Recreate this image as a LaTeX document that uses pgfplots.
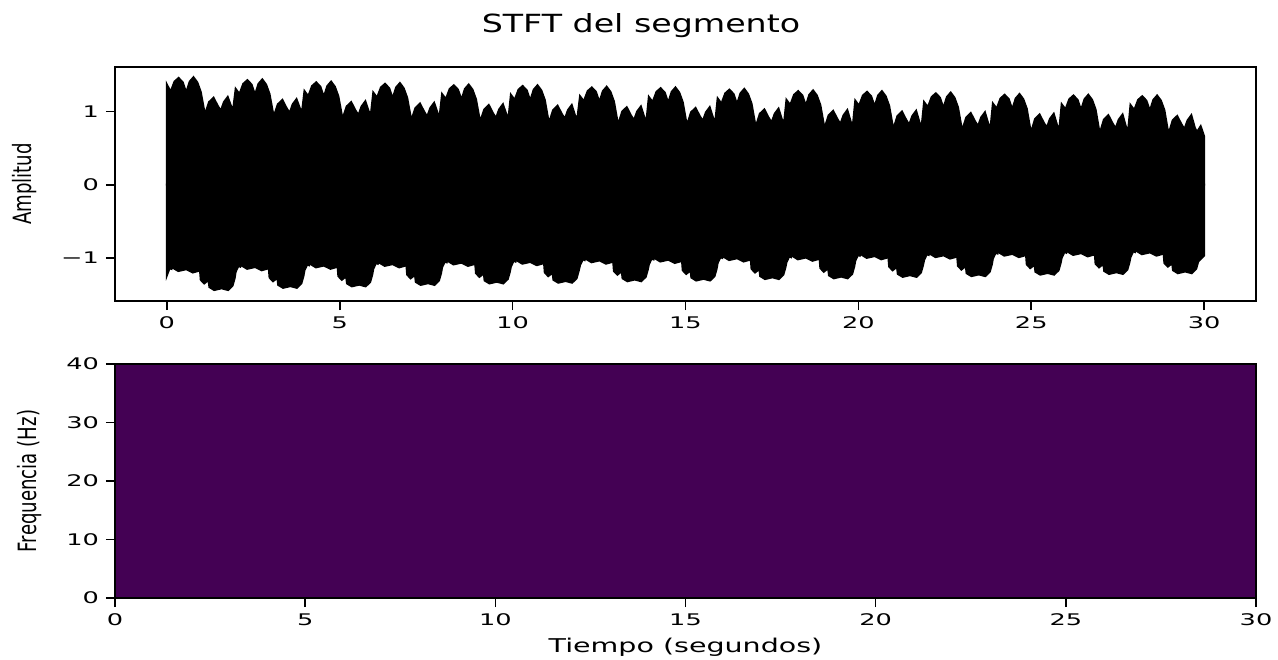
\documentclass[border=0pt]{standalone}
\usepackage{fontspec}
\usepackage{pgfplots}
\pgfplotsset{compat=1.18}
\setmainfont{DejaVu Sans}
\newfontfamily\tickfont{DejaVu Sans}[FakeStretch=1.6]
\newfontfamily\labfont{DejaVu Sans}[FakeStretch=1.5]
\newfontfamily\titfont{DejaVu Sans}[FakeStretch=1.33]
\newfontfamily\yfont{DejaVu Sans}[FakeStretch=0.72]
\definecolor{vir}{RGB}{68,1,84}

\pgfplotsset{
  stftax/.style={
    scale only axis, width=570.5pt, height=117pt,
    axis on top, tick align=outside, xtick pos=left, ytick pos=left,
    major tick length=4.5pt,
    axis line style={line width=0.8pt, black},
    tick style={line width=0.8pt, black},
    tick label style={font=\tickfont\fontsize{8}{9.6}\selectfont},
    ylabel style={font=\yfont\fontsize{12.6}{15}\selectfont, anchor=center},
    xtick={0,5,10,15,20,25,30},
    xticklabels={0,5,10,15,20,25,30},
  }
}

\begin{document}
\begin{tikzpicture}
\path[use as bounding box] (-57.5pt,-30.5pt) rectangle (581.5pt,299pt);

% senal en el tiempo: envolvente superior e inferior, rellenas hasta y=0
\begin{axis}[stftax, at={(0,148.5pt)}, anchor=south west,
  xmin=-1.5, xmax=31.5, ymin=-1.59, ymax=1.61,
  ytick={-1,0,1}, yticklabels={−1,0,1},
  ylabel={Amplitud},
  ylabel style={at={(axis description cs:-0.0793,0.5)}},
  title={STFT del segmento},
  title style={font=\titfont\fontsize{12.5}{15}\selectfont, at={(axis description cs:0.461,1)}, anchor=base, yshift=11.5pt},
]
\addplot[black, fill=black, line width=1pt] coordinates {
(0,1.37) (0.11,1.27) (0.22,1.41) (0.34,1.46) (0.46,1.40) (0.56,1.26) (0.66,1.41) (0.77,1.47) (0.88,1.40) (0.98,1.27) (1.10,0.96) (1.22,1.13) (1.35,1.19) (1.47,1.08) (1.56,1.01) (1.65,1.13) (1.76,1.20) (1.86,1.07) (1.92,1.04)
(1.99,1.31) (2.10,1.24) (2.21,1.38) (2.33,1.43) (2.45,1.37) (2.55,1.23) (2.65,1.38) (2.76,1.44) (2.87,1.37) (2.97,1.24) (3.09,0.93) (3.21,1.10) (3.34,1.16) (3.46,1.05) (3.55,0.98) (3.64,1.10) (3.75,1.17) (3.85,1.04) (3.91,1.00)
(3.98,1.28) (4.09,1.21) (4.20,1.35) (4.32,1.40) (4.44,1.34) (4.54,1.20) (4.64,1.35) (4.75,1.41) (4.86,1.34) (4.96,1.21) (5.08,0.90) (5.20,1.07) (5.33,1.13) (5.45,1.02) (5.54,0.95) (5.63,1.07) (5.74,1.14) (5.84,1.00) (5.90,0.96)
(5.97,1.26) (6.08,1.19) (6.19,1.33) (6.31,1.38) (6.43,1.32) (6.53,1.18) (6.63,1.33) (6.74,1.39) (6.85,1.32) (6.95,1.19) (7.07,0.88) (7.19,1.05) (7.32,1.11) (7.44,1.00) (7.53,0.93) (7.62,1.05) (7.73,1.12) (7.83,0.98) (7.89,0.94)
(7.96,1.24) (8.07,1.17) (8.18,1.31) (8.30,1.36) (8.42,1.30) (8.52,1.16) (8.62,1.31) (8.73,1.37) (8.84,1.30) (8.94,1.17) (9.06,0.86) (9.18,1.03) (9.31,1.09) (9.43,0.98) (9.52,0.91) (9.61,1.03) (9.72,1.10) (9.82,0.96) (9.88,0.91)
(9.95,1.23) (10.06,1.16) (10.17,1.30) (10.29,1.35) (10.41,1.29) (10.51,1.15) (10.61,1.30) (10.72,1.36) (10.83,1.29) (10.93,1.16) (11.05,0.84) (11.17,1.02) (11.30,1.08) (11.42,0.97) (11.51,0.90) (11.60,1.02) (11.71,1.09) (11.81,0.94) (11.87,0.90)
(11.95,1.21) (12.06,1.14) (12.17,1.28) (12.29,1.33) (12.41,1.27) (12.51,1.13) (12.61,1.28) (12.72,1.34) (12.83,1.27) (12.93,1.14) (13.05,0.82) (13.17,1.00) (13.30,1.06) (13.42,0.95) (13.51,0.88) (13.60,1.00) (13.71,1.07) (13.81,0.92) (13.87,0.87)
(13.94,1.20) (14.05,1.13) (14.16,1.27) (14.28,1.32) (14.40,1.26) (14.50,1.12) (14.60,1.27) (14.71,1.33) (14.82,1.26) (14.92,1.13) (15.04,0.81) (15.16,0.99) (15.29,1.05) (15.41,0.94) (15.50,0.87) (15.59,0.99) (15.70,1.06) (15.80,0.91) (15.86,0.86)
(15.93,1.18) (16.04,1.11) (16.15,1.25) (16.27,1.30) (16.39,1.24) (16.49,1.10) (16.59,1.25) (16.70,1.31) (16.81,1.24) (16.91,1.11) (17.03,0.79) (17.15,0.97) (17.28,1.03) (17.40,0.92) (17.49,0.85) (17.58,0.97) (17.69,1.04) (17.79,0.89) (17.85,0.84)
(17.92,1.16) (18.03,1.09) (18.14,1.23) (18.26,1.28) (18.38,1.22) (18.48,1.08) (18.58,1.23) (18.69,1.29) (18.80,1.22) (18.90,1.09) (19.02,0.77) (19.14,0.95) (19.27,1.01) (19.39,0.90) (19.48,0.83) (19.57,0.95) (19.68,1.02) (19.78,0.86) (19.84,0.81)
(19.91,1.15) (20.02,1.08) (20.13,1.22) (20.25,1.27) (20.37,1.21) (20.47,1.07) (20.57,1.22) (20.68,1.28) (20.79,1.21) (20.89,1.08) (21.01,0.76) (21.13,0.94) (21.26,1.00) (21.38,0.89) (21.47,0.82) (21.56,0.94) (21.67,1.01) (21.77,0.85) (21.83,0.80)
(21.90,1.13) (22.01,1.06) (22.12,1.20) (22.24,1.25) (22.36,1.19) (22.46,1.05) (22.56,1.20) (22.67,1.26) (22.78,1.19) (22.88,1.06) (23.00,0.74) (23.12,0.92) (23.25,0.98) (23.37,0.87) (23.46,0.80) (23.55,0.92) (23.66,0.99) (23.76,0.83) (23.82,0.77)
(23.89,1.11) (24.00,1.04) (24.11,1.18) (24.23,1.23) (24.35,1.17) (24.45,1.03) (24.55,1.18) (24.66,1.24) (24.77,1.17) (24.87,1.04) (24.99,0.71) (25.11,0.90) (25.24,0.96) (25.36,0.85) (25.45,0.78) (25.54,0.90) (25.65,0.97) (25.75,0.81) (25.81,0.75)
(25.88,1.10) (25.99,1.03) (26.10,1.17) (26.22,1.22) (26.34,1.16) (26.44,1.02) (26.54,1.17) (26.65,1.23) (26.76,1.16) (26.86,1.03) (26.98,0.70) (27.10,0.89) (27.23,0.95) (27.35,0.84) (27.44,0.77) (27.53,0.89) (27.64,0.96) (27.74,0.79) (27.80,0.73)
(27.87,1.09) (27.98,1.02) (28.09,1.16) (28.21,1.21) (28.33,1.15) (28.43,1.01) (28.53,1.16) (28.64,1.22) (28.75,1.15) (28.85,1.02) (28.97,0.69) (29.09,0.88) (29.22,0.94) (29.34,0.83) (29.43,0.76) (29.52,0.88) (29.63,0.95) (29.73,0.78) (29.79,0.72) (29.90,0.80) (30.00,0.66)
} \closedcycle;
\addplot[black, fill=black, line width=1pt] coordinates {
(0,-1.24) (0.08,-1.14) (0.13,-1.15) (0.16,-0.97) (0.19,-1.14) (0.33,-1.18) (0.52,-1.16) (0.55,-0.95) (0.58,-1.16) (0.75,-1.20) (0.90,-1.18) (0.94,-1.06) (0.98,-1.30) (1.08,-1.35) (1.16,-1.32) (1.19,-1.24) (1.23,-1.40) (1.37,-1.44) (1.55,-1.42) (1.58,-1.24) (1.61,-1.42) (1.77,-1.44) (1.90,-1.38) (1.96,-1.28)
(1.99,-1.19) (2.07,-1.11) (2.12,-1.12) (2.15,-0.94) (2.18,-1.11) (2.32,-1.15) (2.51,-1.13) (2.54,-0.92) (2.57,-1.13) (2.74,-1.17) (2.89,-1.15) (2.93,-1.03) (2.97,-1.27) (3.07,-1.32) (3.15,-1.29) (3.18,-1.21) (3.22,-1.37) (3.36,-1.41) (3.54,-1.39) (3.57,-1.21) (3.60,-1.39) (3.76,-1.41) (3.89,-1.35) (3.95,-1.25)
(3.98,-1.17) (4.06,-1.09) (4.11,-1.10) (4.14,-0.92) (4.17,-1.09) (4.31,-1.13) (4.50,-1.11) (4.53,-0.90) (4.56,-1.11) (4.73,-1.15) (4.88,-1.13) (4.92,-1.01) (4.96,-1.25) (5.06,-1.30) (5.14,-1.27) (5.17,-1.19) (5.21,-1.35) (5.35,-1.39) (5.53,-1.37) (5.56,-1.19) (5.59,-1.37) (5.75,-1.39) (5.88,-1.33) (5.94,-1.23)
(5.97,-1.15) (6.05,-1.07) (6.10,-1.08) (6.13,-0.90) (6.16,-1.07) (6.30,-1.11) (6.49,-1.09) (6.52,-0.88) (6.55,-1.09) (6.72,-1.13) (6.87,-1.11) (6.91,-0.99) (6.95,-1.23) (7.05,-1.28) (7.13,-1.25) (7.16,-1.17) (7.20,-1.33) (7.34,-1.37) (7.52,-1.35) (7.55,-1.17) (7.58,-1.35) (7.74,-1.37) (7.87,-1.31) (7.93,-1.21)
(7.96,-1.13) (8.04,-1.05) (8.09,-1.06) (8.12,-0.88) (8.15,-1.05) (8.29,-1.09) (8.48,-1.07) (8.51,-0.86) (8.54,-1.07) (8.71,-1.11) (8.86,-1.09) (8.90,-0.97) (8.94,-1.21) (9.04,-1.26) (9.12,-1.23) (9.15,-1.15) (9.19,-1.31) (9.33,-1.35) (9.51,-1.33) (9.54,-1.15) (9.57,-1.33) (9.73,-1.35) (9.86,-1.29) (9.92,-1.19)
(9.95,-1.12) (10.03,-1.04) (10.08,-1.05) (10.11,-0.87) (10.14,-1.04) (10.28,-1.08) (10.47,-1.06) (10.50,-0.85) (10.53,-1.06) (10.70,-1.10) (10.85,-1.08) (10.89,-0.96) (10.93,-1.20) (11.03,-1.25) (11.11,-1.22) (11.14,-1.14) (11.18,-1.30) (11.32,-1.34) (11.50,-1.32) (11.53,-1.14) (11.56,-1.32) (11.72,-1.34) (11.85,-1.28) (11.91,-1.18)
(11.95,-1.10) (12.03,-1.02) (12.08,-1.03) (12.11,-0.85) (12.14,-1.02) (12.28,-1.06) (12.47,-1.04) (12.50,-0.83) (12.53,-1.04) (12.70,-1.08) (12.85,-1.06) (12.89,-0.94) (12.93,-1.18) (13.03,-1.23) (13.11,-1.20) (13.14,-1.12) (13.18,-1.28) (13.32,-1.32) (13.50,-1.30) (13.53,-1.12) (13.56,-1.30) (13.72,-1.32) (13.85,-1.26) (13.91,-1.16)
(13.94,-1.09) (14.02,-1.01) (14.07,-1.02) (14.10,-0.84) (14.13,-1.01) (14.27,-1.05) (14.46,-1.03) (14.49,-0.82) (14.52,-1.03) (14.69,-1.07) (14.84,-1.05) (14.88,-0.93) (14.92,-1.17) (15.02,-1.22) (15.10,-1.19) (15.13,-1.11) (15.17,-1.27) (15.31,-1.31) (15.49,-1.29) (15.52,-1.11) (15.55,-1.29) (15.71,-1.31) (15.84,-1.25) (15.90,-1.15)
(15.93,-1.07) (16.01,-0.99) (16.06,-1.00) (16.09,-0.82) (16.12,-0.99) (16.26,-1.03) (16.45,-1.01) (16.48,-0.80) (16.51,-1.01) (16.68,-1.05) (16.83,-1.03) (16.87,-0.91) (16.91,-1.15) (17.01,-1.20) (17.09,-1.17) (17.12,-1.09) (17.16,-1.25) (17.30,-1.29) (17.48,-1.27) (17.51,-1.09) (17.54,-1.27) (17.70,-1.29) (17.83,-1.23) (17.89,-1.13)
(17.92,-1.06) (18.00,-0.98) (18.05,-0.99) (18.08,-0.81) (18.11,-0.98) (18.25,-1.02) (18.44,-1.00) (18.47,-0.79) (18.50,-1.00) (18.67,-1.04) (18.82,-1.02) (18.86,-0.90) (18.90,-1.14) (19.00,-1.19) (19.08,-1.16) (19.11,-1.08) (19.15,-1.24) (19.29,-1.28) (19.47,-1.26) (19.50,-1.08) (19.53,-1.26) (19.69,-1.28) (19.82,-1.22) (19.88,-1.12)
(19.91,-1.04) (19.99,-0.96) (20.04,-0.97) (20.07,-0.79) (20.10,-0.96) (20.24,-1.00) (20.43,-0.98) (20.46,-0.77) (20.49,-0.98) (20.66,-1.02) (20.81,-1.00) (20.85,-0.88) (20.89,-1.12) (20.99,-1.17) (21.07,-1.14) (21.10,-1.06) (21.14,-1.22) (21.28,-1.26) (21.46,-1.24) (21.49,-1.06) (21.52,-1.24) (21.68,-1.26) (21.81,-1.20) (21.87,-1.10)
(21.90,-1.03) (21.98,-0.95) (22.03,-0.96) (22.06,-0.78) (22.09,-0.95) (22.23,-0.99) (22.42,-0.97) (22.45,-0.76) (22.48,-0.97) (22.65,-1.01) (22.80,-0.99) (22.84,-0.87) (22.88,-1.11) (22.98,-1.16) (23.06,-1.13) (23.09,-1.05) (23.13,-1.21) (23.27,-1.25) (23.45,-1.23) (23.48,-1.05) (23.51,-1.23) (23.67,-1.25) (23.80,-1.19) (23.86,-1.09)
(23.89,-1.01) (23.97,-0.93) (24.02,-0.94) (24.05,-0.76) (24.08,-0.93) (24.22,-0.97) (24.41,-0.95) (24.44,-0.74) (24.47,-0.95) (24.64,-0.99) (24.79,-0.97) (24.83,-0.85) (24.87,-1.09) (24.97,-1.14) (25.05,-1.11) (25.08,-1.03) (25.12,-1.19) (25.26,-1.23) (25.44,-1.21) (25.47,-1.03) (25.50,-1.21) (25.66,-1.23) (25.79,-1.17) (25.85,-1.07)
(25.88,-1.00) (25.96,-0.92) (26.01,-0.93) (26.04,-0.75) (26.07,-0.92) (26.21,-0.96) (26.40,-0.94) (26.43,-0.73) (26.46,-0.94) (26.63,-0.98) (26.78,-0.96) (26.82,-0.84) (26.86,-1.08) (26.96,-1.13) (27.04,-1.10) (27.07,-1.02) (27.11,-1.18) (27.25,-1.22) (27.43,-1.20) (27.46,-1.02) (27.49,-1.20) (27.65,-1.22) (27.78,-1.16) (27.84,-1.06)
(27.87,-0.99) (27.95,-0.91) (28.00,-0.92) (28.03,-0.74) (28.06,-0.91) (28.20,-0.95) (28.39,-0.93) (28.42,-0.72) (28.45,-0.93) (28.62,-0.97) (28.77,-0.95) (28.81,-0.83) (28.85,-1.07) (28.95,-1.12) (29.03,-1.09) (29.06,-1.01) (29.10,-1.17) (29.24,-1.21) (29.42,-1.19) (29.45,-1.01) (29.48,-1.19) (29.64,-1.21) (29.77,-1.15) (29.83,-1.05) (30.00,-0.97)
} \closedcycle;
\end{axis}

% espectrograma
\begin{axis}[stftax, at={(0,0)}, anchor=south west,
  xmin=0, xmax=30, ymin=0, ymax=40,
  ytick={0,10,20,30,40}, yticklabels={0,10,20,30,40},
  xlabel={Tiempo (segundos)},
  xlabel style={font=\labfont\fontsize{9.5}{11}\selectfont, at={(axis description cs:0.5,0)}, anchor=base, yshift=-27pt},
  ylabel={Frequencia (Hz)},
  ylabel style={at={(axis description cs:-0.075,0.5)}},
]
\addplot[fill=vir, draw=none] coordinates {(0,40) (30,40)} \closedcycle;
\end{axis}
\end{tikzpicture}
\end{document}
